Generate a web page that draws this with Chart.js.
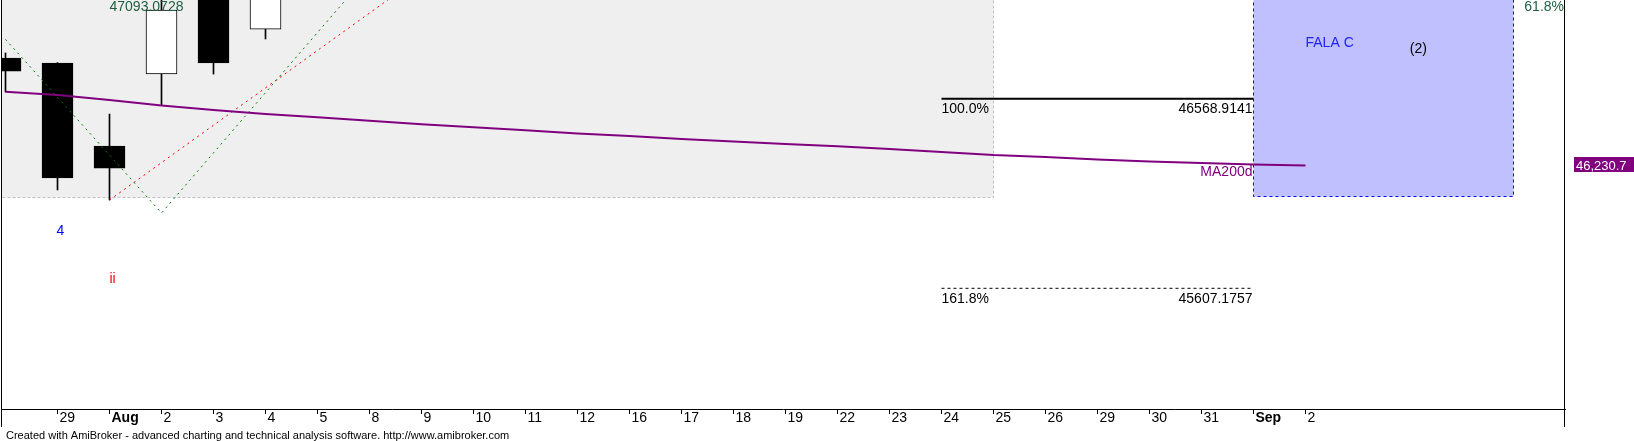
<!DOCTYPE html>
<html lang="en">
  <head>
    <meta charset="UTF-8" />
    <meta name="viewport" content="width=device-width, initial-scale=1.0" />
    <script src="https://cdn.jsdelivr.net/npm/chart.js@4.4.0/dist/chart.umd.min.js"></script>
    <title>AmiBroker chart</title>
    <style>
      html, body { margin: 0; padding: 0; background: #fff; }
      #wrap { width: 1634px; height: 441px; position: relative; }
    </style>
  </head>
  <body>
    <div id="wrap"><canvas id="myChart"></canvas></div>

    <script>
      // bar labels (index 0 = Jul 28, not labelled on the axis)
      const dayLabels = ["28", "29", "Aug", "2", "3", "4", "5", "8", "9", "10", "11", "12", "16",
        "17", "18", "19", "22", "23", "24", "25", "26", "29", "30", "31", "Sep", "2"];
      const boldLabels = ["Aug", "Sep"];

      // candles that fall inside the visible price range
      const candleIdx = [0, 1, 2, 3, 4, 5];
      const opens  = [46775, 46750, 46329, 46694, 47150, 46922];
      const highs  = [46801, 46752, 46491, 47140, 47200, 47250];
      const lows   = [46603, 46106, 46055, 46537, 46694, 46872];
      const closes = [46709, 46167, 46217, 47019, 46750, 47200];

      // 200 day moving average, one value per bar
      const ma200 = [46604, 46588, 46562, 46535, 46512, 46491, 46475, 46457, 46439, 46424, 46409,
        46393, 46380, 46365, 46352, 46339, 46328, 46314, 46299, 46283, 46273, 46261, 46250,
        46243, 46235, 46230.7];

      // hand drawn trend lines (bar index / price)
      const greenIdx = [0, 3, 7];
      const greenPrice = [46870, 45989, 47210];
      const redIdx = [2, 8];
      const redPrice = [46055, 47193];

      // fibonacci levels
      const fibLabels = ["100.0%", "161.8%"];
      const fibPrices = [46568.9141, 45607.1757];
      const fibFrom = 18, fibTo = 24;

      // shaded zones [fromIdx, toIdx, low, high]
      const greyZone = [-1, 19, 46070, 47400];
      const blueZone = [24, 29, 46075, 47400];

      const yMin = 44994.9, yMax = 47069.6;
      const xMin = -0.0865, xMax = 29.9904;

      const FONT = "'Liberation Sans', Arial, sans-serif";

      const wickData = candleIdx.map((i, k) => ({ x: i, y: [lows[k], highs[k]] }));
      const bodyData = candleIdx.map((i, k) => ({ x: i, y: [opens[k], closes[k]] }));
      const bodyColors = candleIdx.map((i, k) => (closes[k] < opens[k] ? "#000000" : "#ffffff"));

      function text(ctx, str, x, y, color, align, size, weight) {
        ctx.font = (weight || "normal") + " " + (size || 14) + "px " + FONT;
        ctx.fillStyle = color;
        ctx.textAlign = align || "left";
        ctx.textBaseline = "alphabetic";
        ctx.fillText(str, x, y);
      }

      function zone(ctx, sx, sy, z, fill, stroke, dash) {
        const x0 = Math.round(sx.getPixelForValue(z[0])) + 0.5;
        const x1 = Math.round(sx.getPixelForValue(z[1])) + 0.5;
        const y0 = Math.round(sy.getPixelForValue(z[3])) + 0.5;
        const y1 = Math.round(sy.getPixelForValue(z[2])) + 0.5;
        ctx.fillStyle = fill;
        ctx.fillRect(x0, y0, x1 - x0, y1 - y0);
        ctx.setLineDash(dash);
        ctx.strokeStyle = stroke;
        ctx.lineWidth = 1;
        ctx.strokeRect(x0, y0, x1 - x0, y1 - y0);
        ctx.setLineDash([]);
      }

      const annotations = {
        id: "annotations",
        beforeDatasetsDraw(chart) {
          const { ctx, chartArea: a, scales: { x, y } } = chart;
          ctx.save();
          ctx.beginPath();
          ctx.rect(a.left, a.top, a.right - a.left, a.bottom - a.top);
          ctx.clip();
          zone(ctx, x, y, greyZone, "#efefef", "#c0c0c0", [3, 2]);
          zone(ctx, x, y, blueZone, "#c0c0ff", "#0000ff", [3, 3]);
          ctx.restore();
        },
        afterDatasetsDraw(chart) {
          const { ctx, chartArea: a, scales: { x, y } } = chart;
          ctx.save();
          // frame
          ctx.strokeStyle = "#000";
          ctx.lineWidth = 1;
          ctx.beginPath();
          ctx.moveTo(a.left + 0.5, 0);
          ctx.lineTo(a.left + 0.5, 427);
          ctx.moveTo(a.right - 0.5, 0);
          ctx.lineTo(a.right - 0.5, 427);
          ctx.stroke();

          // fib labels
          fibLabels.forEach((lbl, k) => {
            const py = y.getPixelForValue(fibPrices[k]);
            text(ctx, lbl, x.getPixelForValue(fibFrom), py + 14.3, "#000");
            text(ctx, fibPrices[k].toFixed(4), x.getPixelForValue(fibTo) - 1, py + 14.3, "#000", "right");
          });

          text(ctx, "47093.0728", x.getPixelForValue(2), a.top + 11, "#1f5f3f");
          text(ctx, "61.8%", a.right - 1, a.top + 11, "#1f5f3f", "right");
          text(ctx, "4", x.getPixelForValue(1) + 3, y.getPixelForValue(45877), "#0000ff", "center");
          text(ctx, "ii", x.getPixelForValue(2) + 3, y.getPixelForValue(45634), "#ff0000", "center");
          text(ctx, "FALA C", x.getPixelForValue(25), y.getPixelForValue(46833), "#2020ff");
          text(ctx, "(2)", x.getPixelForValue(27.17), y.getPixelForValue(46801), "#000", "center");
          text(ctx, "MA200d", x.getPixelForValue(24) - 1, y.getPixelForValue(ma200[24]) + 11.5, "#800080", "right");

          // last value tag on the right
          const last = ma200[ma200.length - 1];
          const ly = Math.round(y.getPixelForValue(last));
          ctx.fillStyle = "#800080";
          ctx.fillRect(a.right + 9, ly - 8, chart.width - a.right - 9, 15);
          text(ctx, last.toLocaleString("en-US", { minimumFractionDigits: 1, maximumFractionDigits: 1 }),
            a.right + 11, ly + 5, "#ffffff", "left", 13);

          // footer
          text(ctx, "Created with AmiBroker - advanced charting and technical analysis software. http://www.amibroker.com",
            6, 439, "#000", "left", 11);
          ctx.restore();
        }
      };

      const ctx = document.getElementById("myChart").getContext("2d");
      const chart = new Chart(ctx, {
        type: "bar",
        data: {
          datasets: [
            {
              type: "line",
              label: "MA200d",
              data: ma200.map((v, i) => ({ x: i, y: v })),
              borderColor: "#800080",
              borderWidth: 2,
              pointRadius: 0,
              clip: 0,
              order: 1
            },
            {
              type: "line",
              label: "green",
              data: greenIdx.map((v, i) => ({ x: v, y: greenPrice[i] })),
              borderColor: "#008000",
              borderWidth: 1,
              borderDash: [2, 4],
              pointRadius: 0,
              clip: 0,
              order: 2
            },
            {
              type: "line",
              label: "red",
              data: redIdx.map((v, i) => ({ x: v, y: redPrice[i] })),
              borderColor: "#ff0000",
              borderWidth: 1,
              borderDash: [2, 4],
              pointRadius: 0,
              clip: 0,
              order: 3
            },
            {
              type: "line",
              label: "fib100",
              data: [{ x: fibFrom, y: fibPrices[0] }, { x: fibTo, y: fibPrices[0] }],
              borderColor: "#000",
              borderWidth: 2,
              pointRadius: 0,
              clip: 0,
              order: 4
            },
            {
              type: "line",
              label: "fib161",
              data: [{ x: fibFrom, y: fibPrices[1] }, { x: fibTo, y: fibPrices[1] }],
              borderColor: "#000",
              borderWidth: 1,
              borderDash: [3, 3],
              pointRadius: 0,
              clip: 0,
              order: 5
            },
            {
              label: "body",
              data: bodyData,
              backgroundColor: bodyColors,
              borderColor: "#000",
              borderWidth: 1,
              borderSkipped: false,
              barThickness: 31,
              grouped: false,
              clip: 0,
              order: 6
            },
            {
              label: "wick",
              data: wickData,
              backgroundColor: "#000",
              borderWidth: 0,
              barThickness: 1,
              grouped: false,
              clip: 0,
              order: 7
            }
          ]
        },
        options: {
          responsive: true,
          maintainAspectRatio: false,
          animation: false,
          layout: { padding: { left: 1, right: 69, top: 0, bottom: 0 } },
          plugins: { legend: { display: false }, tooltip: { enabled: false } },
          scales: {
            x: {
              type: "linear",
              min: xMin,
              max: xMax,
              offset: false,
              afterBuildTicks: (scale) => {
                scale.ticks = dayLabels.slice(1).map((l, i) => ({ value: i + 1 }));
              },
              afterFit: (scale) => { scale.height = 32; },
              grid: {
                offset: false,
                drawOnChartArea: false,
                drawTicks: true,
                tickLength: 5,
                color: "#000"
              },
              border: { display: true, color: "#000", width: 1 },
              ticks: {
                autoSkip: false,
                maxRotation: 0,
                align: "start",
                labelOffset: 2,
                padding: -4,
                color: "#000",
                font: (c) => ({
                  family: FONT,
                  size: 14,
                  weight: c.tick && boldLabels.includes(dayLabels[c.tick.value]) ? "bold" : "normal"
                }),
                callback: (v) => dayLabels[v]
              }
            },
            y: {
              type: "linear",
              display: false,
              min: yMin,
              max: yMax
            }
          }
        },
        plugins: [annotations]
      });
    </script>
  </body>
</html>
